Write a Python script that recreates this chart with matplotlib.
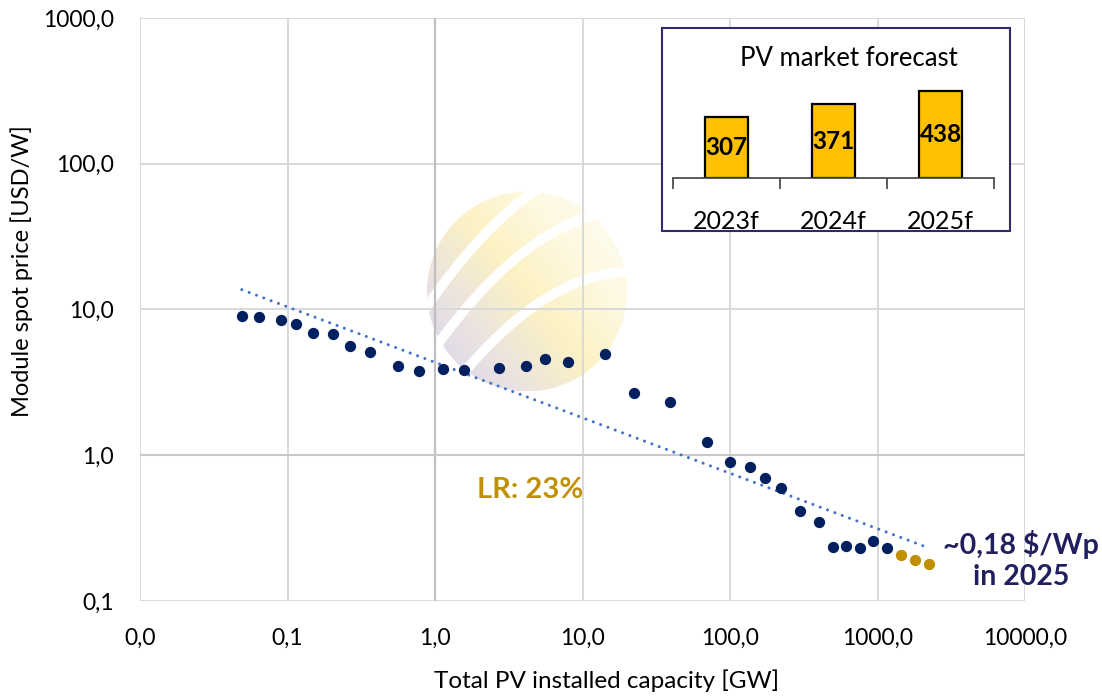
import numpy as np
import matplotlib.pyplot as plt
from matplotlib.ticker import FuncFormatter, FixedLocator
from matplotlib.patches import Circle, Rectangle
from matplotlib.colors import LinearSegmentedColormap

plt.rcParams['font.family'] = ['Lato', 'DejaVu Sans']

# cumulative installed capacity [GW] vs module spot price [USD/W]
capacity = [0.049, 0.064, 0.091, 0.115, 0.149, 0.204, 0.266, 0.363, 0.561, 0.779,
            1.13, 1.57, 2.71, 4.13, 5.55, 7.95, 14.2, 22.2, 39.0, 69.5,
            99.4, 136, 174, 223, 300, 404, 503, 616, 765, 938, 1167]
price = [9.0, 8.86, 8.45, 7.93, 6.87, 6.77, 5.60, 5.09, 4.08, 3.77,
         3.89, 3.83, 3.95, 4.08, 4.56, 4.35, 4.93, 2.66, 2.31, 1.23,
         0.895, 0.828, 0.696, 0.594, 0.413, 0.347, 0.234, 0.237, 0.230, 0.257, 0.230]
# forecast points 2023-2025
capacity_fc = [1452, 1806, 2245]
price_fc = [0.206, 0.191, 0.179]

x_ticks = [0.01, 0.1, 1, 10, 100, 1000, 10000]
y_ticks = [0.1, 1, 10, 100, 1000]

# inset: PV market forecast [GW]
years = ['2023f', '2024f', '2025f']
market = [307, 371, 438]

W, H = 1102, 698
NAVY = '#002060'
GOLD = '#BF9000'

def px(x0, y0, x1, y1):
    # pixel box -> figure fraction [left, bottom, width, height]
    return [x0 / W, 1 - y1 / H, (x1 - x0) / W, (y1 - y0) / H]

def comma(v, pos=None):
    return f"{v:.1f}".replace('.', ',')

fig = plt.figure(figsize=(W / 100, H / 100), dpi=100)

# faded logo behind the plot
lg = fig.add_axes(px(427, 188, 627, 395), zorder=0.5)
lg.set_xlim(-1, 1)
lg.set_ylim(-1, 1)
lg.axis('off')
gx, gy = np.meshgrid(np.linspace(-1, 1, 200), np.linspace(-1, 1, 200))
cmap = LinearSegmentedColormap.from_list('lg', ['#c9c3e6', '#e3d9d8', '#fbeeb0', '#fef8dc', '#fffdf2'])
img = lg.imshow(gx + 0.8 * gy, extent=(-1, 1, -1, 1), origin='lower', cmap=cmap, alpha=0.75)
img.set_clip_path(Circle((0, 0), 1, transform=lg.transData))
xx = np.linspace(-1.2, 1.2, 100)
for off in [0.95, 0.42, -0.2]:
    lg.plot(xx, off + 0.75 * xx - 0.35 * xx ** 2, color='white', lw=7, solid_capstyle='butt')

ax = fig.add_axes(px(140, 18, 1025, 601), zorder=1)
ax.set_facecolor('none')
ax.set_xscale('log')
ax.set_yscale('log')
ax.set_xlim(0.01, 10000)
ax.set_ylim(0.1, 1000)
ax.minorticks_off()
ax.xaxis.set_major_locator(FixedLocator(x_ticks))
ax.yaxis.set_major_locator(FixedLocator(y_ticks))
ax.xaxis.set_major_formatter(FuncFormatter(comma))
ax.yaxis.set_major_formatter(FuncFormatter(comma))
ax.tick_params(length=0, labelsize=16.5, colors='black')
ax.tick_params(axis='x', pad=19)
ax.tick_params(axis='y', pad=19)
for s in ax.spines.values():
    s.set_visible(False)
ax.grid(True, color='#d9d9d9', lw=1.4)
ax.axvline(1, color='#bfbfbf', lw=1.6)
ax.axhline(1, color='#c8c8c8', lw=1.5)
ax.set_axisbelow(True)

# power-law trend (learning rate)
lx = np.log10(capacity + capacity_fc)
ly = np.log10(price + price_fc)
b, a = np.polyfit(lx, ly, 1)
xs = np.logspace(lx.min(), lx.max(), 50)
ax.plot(xs, 10 ** (a + b * np.log10(xs)), color='#4472C4', lw=2.2,
        linestyle=(0, (0.01, 2.55)), dash_capstyle='round', zorder=3)

ax.scatter(capacity, price, s=66, color=NAVY, zorder=4, linewidths=0)
ax.scatter(capacity_fc, price_fc, s=66, color=GOLD, zorder=4, linewidths=0)

ax.set_xlabel('Total PV installed capacity [GW]', fontsize=17.5)
ax.set_ylabel('Module spot price [USD/W]', fontsize=17)
ax.xaxis.set_label_coords(0.527, -0.117)
ax.yaxis.set_label_coords(-0.121, 0.565)

fig.text(530 / W, 1 - 490 / H, 'LR: 23%', color=GOLD, fontsize=21, fontweight='bold',
         ha='center', va='center')
fig.text(1021 / W, 1 - 560 / H, '~0,18 $/Wp\nin 2025', color='#221F5E', fontsize=20.5,
         fontweight='bold', ha='center', va='center', linespacing=1.25)

# inset box
box = Rectangle((662 / W, 1 - 231 / H), 348 / W, 203 / H, transform=fig.transFigure,
                facecolor='white', edgecolor='#2E2A6A', lw=1.5, zorder=2)
fig.add_artist(box)
fig.text(849 / W, 1 - 58 / H, 'PV market forecast', fontsize=18.5, ha='center', va='center',
         zorder=3)

ins = fig.add_axes(px(673, 80, 994, 178), zorder=3)
ins.set_facecolor('none')
pos = np.arange(len(years))
ins.bar(pos, market, width=0.4, color='#FFC000', edgecolor='black', lw=1.6)
for p, v in zip(pos, market):
    ins.text(p, v / 2, str(v), ha='center', va='center', fontsize=17.5, fontweight='bold')
ins.set_xlim(-0.5, 2.5)
ins.set_ylim(0, 493)
for s in ['top', 'left', 'right']:
    ins.spines[s].set_visible(False)
ins.spines['bottom'].set_color('#404040')
ins.spines['bottom'].set_linewidth(1.2)
ins.set_yticks([])
ins.set_xticks(pos)
ins.set_xticklabels(years)
ins.set_xticks([-0.5, 0.5, 1.5, 2.5], minor=True)
ins.tick_params(axis='x', which='major', length=0, pad=23, labelsize=18)
ins.tick_params(axis='x', which='minor', length=8, width=1.2, color='#404040', direction='out')

fig.savefig('out.png', dpi=100)
